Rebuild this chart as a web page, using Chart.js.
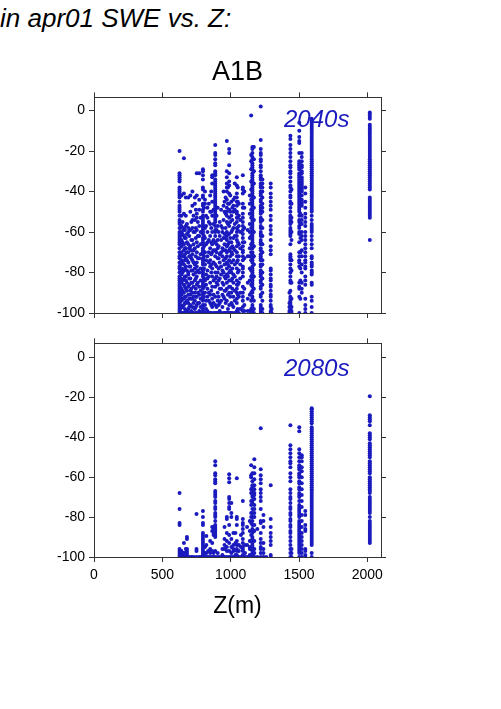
<!DOCTYPE html>
<html lang="en">
<head>
    <meta charset="UTF-8">
    <title>SWE vs. Z</title>
    <script src="https://cdn.jsdelivr.net/npm/chart.js"></script>
    <style>
        html, body { margin: 0; padding: 0; background: white; overflow: hidden; }
        body { width: 501px; height: 709px; position: relative; font-family: "Liberation Sans", sans-serif; }
        canvas { position: absolute; left: 0; }
        .heading { position: absolute; left: 0; top: 3px; font-size: 26px; font-style: italic; color: black; white-space: nowrap; }
        .period { position: absolute; left: 284px; font-size: 24px; font-style: italic; color: #1a1abe; }
    </style>
</head>
<body>
<div class="heading">in apr01 SWE vs. Z:</div>
<canvas id="chart2040" width="501" height="287" style="top:43px"></canvas>
<canvas id="chart2080" width="501" height="289" style="top:331px"></canvas>
<div class="period" style="top:105px">2040s</div>
<div class="period" style="top:354px">2080s</div>

<script>
    const xTickValues = [0, 500, 1000, 1500, 2000];
    const yTickValues = [0, -20, -40, -60, -80, -100];

    // elevations of the stations, one list of SWE changes for each
    const z2040 = [626, 640, 658, 672, 690, 705, 720, 738, 752, 770, 797, 812, 830, 850, 865, 887, 905, 920, 940, 955, 972, 989, 1005, 1020, 1045, 1060, 1089, 1140, 1150, 1159, 1170, 1220, 1232, 1293, 1437, 1445, 1502, 1520, 1546, 1593, 2018,
        632, 648, 665, 680, 697, 712, 728, 745, 760, 780, 805, 820, 840, 858, 875, 897, 912, 930, 948, 963, 980, 997, 1012, 1030, 1052, 1070, 1100, 1125, 1300, 1430, 1510];
    const swe2040 = [
        [-20, -31, -32, -33, -34, -35, -38, -39, -40, -41, -42, -43, -45, -47, -48, -49, -50, -52, -54, -55, -56, -58, -60, -61, -62, -63, -64, -65, -66, -68, -70, -72, -73, -75, -77, -78, -80, -82, -83, -84, -85, -86, -87, -88, -89, -90, -91, -92, -93, -94, -95, -96, -97, -98, -99, -100],
        [-42, -52, -57, -60, -64, -67, -70, -74, -78, -81, -85, -88, -91, -94, -97, -100],
        [-23.5, -41, -51, -58, -59, -62, -66, -69, -72, -76, -79, -83, -86, -90, -93, -96, -100],
        [-43, -52, -57, -63, -68, -73, -77, -82, -84, -88, -92, -95, -99],
        [-43, -58, -60, -66, -70, -75, -80, -81, -87, -91, -95, -98, -100],
        [-42, -50, -59, -67, -72, -77, -83, -89, -91, -96, -100],
        [-40, -47, -54, -58, -64, -71, -74, -79, -85, -90, -93, -97, -100],
        [-43, -46, -54, -60, -68, -76, -78, -84, -90, -94, -98],
        [-31, -42, -51, -53, -59, -65, -70, -75, -77, -82, -86, -92, -96, -100],
        [-31, -44, -49, -57, -62, -73, -80, -87, -91, -95, -99],
        [-29, -30, -32, -34, -38, -39, -42, -43, -46, -47, -49, -50, -52, -53, -54, -55, -56, -57, -58, -59, -60, -61, -63, -64, -65, -66, -68, -69, -70, -71, -73, -74, -75, -76, -78, -79, -80, -81, -82, -84, -85, -86, -87, -88, -90, -91, -92, -93, -94, -96, -97, -98, -99, -100],
        [-40, -44, -46, -58, -63, -70, -76, -84, -90, -96, -100],
        [-48, -53, -60, -65, -72, -79, -83, -88, -92, -99],
        [-42, -50, -56, -62, -68, -74, -77, -85, -91, -95, -100],
        [-32, -33, -36, -45, -52, -60, -66, -70, -78, -82, -87, -93, -97],
        [-17, -21, -22, -24, -26, -27, -30, -31, -32, -34, -35, -36, -37, -38, -39, -40, -41, -42, -43, -44, -45, -46, -47, -48, -49, -50, -51, -52, -53, -54, -55, -57, -59, -60, -62, -65, -69, -72, -76, -80, -83, -87, -92, -96, -100],
        [-48, -57, -64, -68, -73, -80, -86, -90, -94, -100],
        [-55, -62, -71, -75, -83, -88, -95, -99],
        [-58, -60, -68, -72, -79, -85, -91, -97],
        [-45, -50, -61, -66, -76, -82, -89, -93, -100],
        [-15, -30, -33, -36, -38, -40, -44, -48, -50, -52, -55, -60, -62, -64, -67, -70, -72, -75, -78, -81, -85, -88, -94, -100],
        [-19, -21, -27, -31, -35, -37, -41, -46, -49, -53, -57, -61, -65, -69, -74, -77, -80, -84, -87, -90, -96, -100],
        [-45, -52, -60, -65, -70, -75, -80, -84, -90, -95, -100],
        [-44, -47, -50, -58, -63, -68, -74, -81, -85, -92, -97],
        [-33, -37, -41, -43, -45, -47, -50, -51, -53, -55, -58, -60, -62, -64, -67, -70, -72, -75, -78, -84, -86, -88, -90, -93, -95, -99],
        [-46, -52, -57, -66, -72, -79, -85, -92, -100],
        [-32, -38, -39, -41, -46, -48, -51, -53, -55, -57, -59, -61, -63, -65, -67, -69, -70, -72, -74, -77, -78, -80, -82, -87, -90, -92, -94, -97, -99],
        [-42, -46, -51, -56, -60, -63, -68, -72, -78, -84, -91, -99],
        [-2.5, -22, -25, -29, -35, -39, -44, -49, -53, -58, -62, -66, -70, -74, -79, -82, -86, -90, -94, -98, -100],
        [-18, -19, -21, -23, -24, -26, -27, -28, -29, -31, -32, -33, -34, -35, -36, -37, -38, -39, -40, -41, -42, -43, -44, -45, -46, -47, -48, -49, -50, -51, -52, -53, -54, -55, -56, -57, -58, -59, -60, -61, -62, -63, -64, -65, -66, -67, -68, -70, -71, -72, -73, -74, -75, -77, -78, -79, -80, -81, -83, -84, -85, -86, -87, -89, -90, -92, -93, -96, -97, -98, -99, -100],
        [-18, -24, -30, -36, -43, -48, -54, -60, -67, -72, -76, -82, -88, -94, -98, -100],
        [2, -14.5, -19, -21, -22, -24, -25, -27, -28, -30, -32, -33, -34, -36, -37, -38, -40, -41, -42, -44, -45, -47, -48, -49, -50, -51, -53, -54, -55, -57, -58, -60, -61, -62, -64, -65, -66, -68, -69, -71, -72, -73, -74, -76, -77, -79, -80, -81, -82, -84, -85, -87, -88, -91, -92, -96, -97, -98, -99, -100],
        [-34, -36, -38, -40, -43, -46, -48, -50, -54, -58, -62, -66, -70, -74, -76, -80, -83, -86, -90, -94, -98, -100],
        [-36, -38, -41, -43, -45, -47, -49, -52, -54, -57, -59, -61, -64, -67, -69, -71, -78, -79, -81, -83, -84, -86, -87, -89, -91, -92, -94, -96, -97, -99, -100],
        [-12.5, -14, -17, -19, -21, -23, -25, -27, -28, -30, -31, -33, -35, -37, -38, -40, -42, -43, -45, -46, -48, -50, -52, -53, -54, -55, -56, -58, -59, -60, -61, -62, -66, -71, -72, -73, -74, -76, -78, -80, -82, -84, -85, -89, -92, -93, -94, -95, -96, -97, -98, -99, -100],
        [-39, -46, -53, -55, -60, -64, -74, -79, -85, -93, -97, -99, -100],
        [-6, -10, -13, -15, -16, -21, -25, -26, -27, -28, -29, -31, -32, -33, -34, -35, -36, -37, -38, -39, -40, -41, -42, -43, -44, -45, -46, -47, -48, -49, -50, -52, -54, -55, -57, -58, -60, -61, -65, -70, -72, -74, -75, -77, -85, -87, -88, -92, -100],
        [-21, -23, -25, -27, -28, -30, -31, -33, -34, -35, -36, -37, -38, -39, -40, -42, -44, -45, -46, -47, -52, -54, -56, -60, -62, -64, -69, -72, -76, -80, -85, -88, -90],
        [-38, -41, -45, -48, -51, -53, -55, -57, -60, -62, -64, -66, -68, -70, -72, -74, -75, -77, -78, -82, -84, -86, -93, -96, -98, -100],
        [-4, -5, -6, -7, -8, -9, -10, -11, -12, -13, -14, -15, -16, -17, -18, -19, -20, -21, -22, -23, -24, -25, -26, -27, -28, -29, -30, -31, -32, -33, -34, -35, -36, -37, -38, -39, -40, -41, -42, -43, -44, -45, -46, -47, -48, -49, -50, -52, -54, -56, -57, -58, -59, -60, -62, -64, -66, -68, -72, -73, -75, -76, -77, -79, -80, -81, -85, -86, -92, -94, -97, -100],
        [-1, -2, -3, -4, -7, -8, -9, -10, -11, -12, -13, -14, -15, -16, -17, -18, -19, -20, -21, -22, -23, -24, -25, -26, -27, -28, -29, -30, -31, -32, -33, -34, -35, -36, -37, -38, -39, -43, -44, -45, -46, -47, -48, -49, -50, -51, -52, -53, -64],
        [-58, -62, -66, -71, -76, -79, -83, -87, -90, -92, -94, -96, -98, -100],
        [-55, -61, -65, -72, -75, -80, -84, -89, -93, -97, -100],
        [-59, -63, -68, -71, -74, -78, -82, -87, -92, -95, -98, -100],
        [-56, -61, -65, -70, -74, -79, -85, -89, -94, -99, -100],
        [-62, -68, -72, -77, -83, -86, -93, -97, -100],
        [-55, -64, -69, -73, -79, -85, -88, -93, -99, -100],
        [-52, -60, -66, -69, -75, -81, -87, -92, -95, -100],
        [-49, -58, -63, -72, -80, -83, -88, -92, -97, -100],
        [-55, -62, -67, -73, -79, -85, -90, -95, -100],
        [-53, -60, -66, -71, -78, -84, -89, -93, -97, -100],
        [-48, -62, -67, -72, -78, -83, -87, -92, -100],
        [-52, -57, -66, -74, -81, -86, -94, -98, -100],
        [-46, -55, -64, -70, -75, -82, -90, -94, -100],
        [-40, -50, -58, -65, -71, -76, -80, -89, -96, -100],
        [-49, -56, -64, -69, -75, -84, -91, -95, -100],
        [-52, -59, -66, -70, -77, -82, -85, -97, -100],
        [-60, -67, -73, -78, -84, -92, -96, -100],
        [-49, -57, -64, -70, -77, -81, -88, -94, -100],
        [-40, -47, -54, -63, -69, -74, -80, -86, -92, -100],
        [-43, -51, -58, -63, -69, -73, -83, -89, -95, -100],
        [-38, -46, -56, -61, -66, -76, -82, -91, -98, -100],
        [-42, -50, -55, -63, -68, -72, -79, -87, -92, -100],
        [-48, -54, -59, -67, -71, -78, -83, -88, -96, -100],
        [-36, -43, -49, -56, -62, -69, -76, -82, -89, -94, -100],
        [-38, -45, -53, -59, -65, -74, -80, -86, -91, -98, -100],
        [-54, -60, -68, -76, -83, -90, -98],
        [-40, -48, -58, -65, -73, -88, -96, -99],
        [-59, -72, -85, -93, -99],
        [-98, -100],
        [-90, -95, -97, -99, -100],
        [-40, -45, -51, -56, -63, -70, -78, -84, -93]
    ];

    const z2080 = [626, 632, 640, 650, 658, 672, 680, 700, 750, 770, 797, 812, 822, 850, 865, 875, 887, 905, 920, 940, 955, 972, 989, 1005, 1020, 1045, 1060, 1089, 1140, 1150, 1159, 1173, 1220, 1240, 1293, 1437, 1445, 1502, 1520, 1546, 1593, 2018,
        715, 730, 785, 835, 1035, 1075, 1105, 1120, 1195, 1260];
    const swe2080 = [
        [-68, -76, -83, -84, -96, -97, -98, -99, -100],
        [-97, -98, -99, -100],
        [-97, -98, -99, -100],
        [-98, -99, -100],
        [-93, -98, -100],
        [-96, -98, -100],
        [-90, -91, -96, -97, -98, -99, -100],
        [-100],
        [-78.5, -96, -97, -100],
        [-100],
        [-77, -80, -83, -84, -88, -89, -90, -91, -92, -93, -94, -95, -96, -97, -98, -99, -100],
        [-95, -98, -100],
        [-89.5, -94, -98, -100],
        [-92, -96, -98, -100],
        [-85, -87, -93, -97, -100],
        [-85, -86, -88, -89, -98, -100],
        [-52, -54, -58, -59, -61, -62, -63, -67, -68, -69, -70, -72, -73, -75, -76, -78, -79, -80, -82, -84, -85, -86, -87, -88, -89, -90, -97, -100],
        [-98, -100],
        [-100],
        [-96, -99, -100],
        [-85, -91, -94, -96, -100],
        [-80, -81, -88, -92, -95, -97, -100],
        [-58.5, -60.5, -62.5, -70, -71, -73, -75, -76, -84, -89, -93, -97, -100],
        [-73, -78, -80, -91, -95, -98, -100],
        [-88, -94, -96, -97, -100],
        [-60.5, -80, -81, -84, -92, -94, -96, -97, -99, -100],
        [-94, -97, -100],
        [-72, -81, -83, -84, -86, -88, -91, -93, -95, -96, -97, -99, -100],
        [-82, -87, -92, -95, -96, -99, -100],
        [-54, -59, -60, -66, -68, -72, -74, -78, -80, -83, -89, -92, -96, -100],
        [-58, -62, -64, -65, -67, -69, -70, -72, -73, -76, -78, -80, -82, -84, -86, -87, -88, -90, -91, -92, -93, -94, -95, -96, -97, -98, -99, -100],
        [-51, -55, -58, -61, -64, -66, -68, -69, -71, -74, -76, -78, -80, -84, -87, -92, -96, -98, -100],
        [-35.5, -56, -59, -61, -63, -66, -68, -70, -72, -76, -82, -83, -88, -91, -93, -95, -96, -98, -100],
        [-79, -82, -85, -93, -96, -98, -100],
        [-64, -81, -85, -88, -90, -92, -94, -99, -100],
        [-34, -44, -46, -48, -50, -52, -53, -55, -58, -60, -62, -66, -68, -70, -71, -73, -75, -76, -78, -79, -81, -82, -84, -85, -87, -88, -90, -92, -94, -96, -98, -100],
        [-96, -98, -100],
        [-35, -37, -46, -48, -50, -52, -54, -55, -56, -58, -59, -60, -62, -63, -65, -66, -68, -69, -70, -72, -74, -75, -76, -77, -78, -79, -80, -82, -83, -84, -85, -86, -87, -88, -89, -90, -91, -92, -93, -94, -95, -96, -97, -98, -100],
        [-49, -50, -52, -55, -57, -60, -63, -66, -69, -72, -75, -79, -82, -85, -88, -90, -92, -94, -96, -98, -100],
        [-77, -79, -84, -86, -87, -96, -97, -99, -100],
        [-25.5, -26, -27, -28, -29, -30, -31, -32, -33, -35, -36, -37, -38, -39, -40, -41, -42, -43, -44, -45, -46, -47, -48, -49, -50, -51, -52, -53, -54, -55, -56, -57, -58, -59, -60, -61, -62, -63, -64, -65, -66, -67, -68, -69, -70, -71, -72, -73, -74, -75, -76, -77, -78, -79, -80, -81, -82, -83, -84, -85, -86, -87, -88, -89, -90, -91, -92, -93, -94, -98, -100],
        [-19.5, -29, -30, -31, -32, -34, -38, -39, -40, -41, -43, -44, -45, -46, -47, -48, -49, -50, -52, -53, -54, -55, -56, -57, -58, -60, -61, -62, -63, -64, -65, -66, -67, -68, -70, -71, -72, -73, -74, -75, -76, -77, -78, -80, -82, -83, -84, -85, -86, -87, -88, -89, -90, -91, -92, -93],
        [-100],
        [-100],
        [-100],
        [-97, -100],
        [-88, -93, -99, -100],
        [-89, -95, -100],
        [-94, -98, -100],
        [-85, -94, -100],
        [-86, -100],
        [-100]
    ];

    const pointBlue = "#1a1abe";
    const axisGrey = "#333333";

    function toPoints(zList, sweList) {
        let pts = [];
        zList.forEach((z, i) => sweList[i].forEach(v => pts.push({ x: z, y: v })));
        return pts;
    }

    function fixTicks(values) {
        return axis => { axis.ticks = values.map(v => ({ value: v })); };
    }

    function fixSize(prop, size) {
        return axis => { axis[prop] = size; };
    }

    function makePanel(id, zList, sweList, yTop, showX, title) {
        const grid = { drawOnChartArea: false, tickLength: 5, tickColor: axisGrey, tickWidth: 1 };
        const border = { display: true, color: axisGrey, width: 1 };
        const xRange = { type: "linear", min: 0, max: 2100, afterBuildTicks: fixTicks(xTickValues), grid: grid, border: border };
        const yRange = { type: "linear", min: -100, max: yTop, afterBuildTicks: fixTicks(yTickValues), grid: grid, border: border };
        const bottomH = showX ? 63 : 17;
        return new Chart(document.getElementById(id), {
            type: "scatter",
            data: {
                datasets: [{
                    data: toPoints(zList, sweList),
                    backgroundColor: pointBlue,
                    borderWidth: 0,
                    pointRadius: 2
                }]
            },
            options: {
                responsive: false,
                animation: false,
                layout: { padding: 0 },
                plugins: {
                    legend: { display: false },
                    tooltip: { enabled: false },
                    title: {
                        display: !!title,
                        text: title,
                        fullSize: false,
                        color: "black",
                        font: { family: "Liberation Sans", size: 27, weight: "normal", lineHeight: 1.2 },
                        padding: { top: 13, bottom: 0 }
                    }
                },
                scales: {
                    x: {
                        ...xRange,
                        position: "bottom",
                        afterFit: fixSize("height", bottomH),
                        ticks: { display: showX, color: "black", padding: 5, maxRotation: 0, font: { family: "Liberation Sans", size: 14 }, callback: v => String(v) },
                        title: {
                            display: showX,
                            text: "Z(m)",
                            color: "black",
                            padding: 0,
                            font: { family: "Liberation Sans", size: 23 }
                        }
                    },
                    xTop: {
                        ...xRange,
                        position: "top",
                        afterFit: fixSize("height", title ? 9 : 10),
                        ticks: { display: false }
                    },
                    y: {
                        ...yRange,
                        position: "left",
                        afterFit: fixSize("width", 94),
                        ticks: { color: "black", padding: 4, font: { family: "Liberation Sans", size: 14 } }
                    },
                    yRight: {
                        ...yRange,
                        position: "right",
                        afterFit: fixSize("width", 120),
                        ticks: { display: false }
                    }
                }
            }
        });
    }

    makePanel("chart2040", z2040, swe2040, 6.5, false, "A1B");
    makePanel("chart2080", z2080, swe2080, 7, true, "");
</script>
</body>
</html>
